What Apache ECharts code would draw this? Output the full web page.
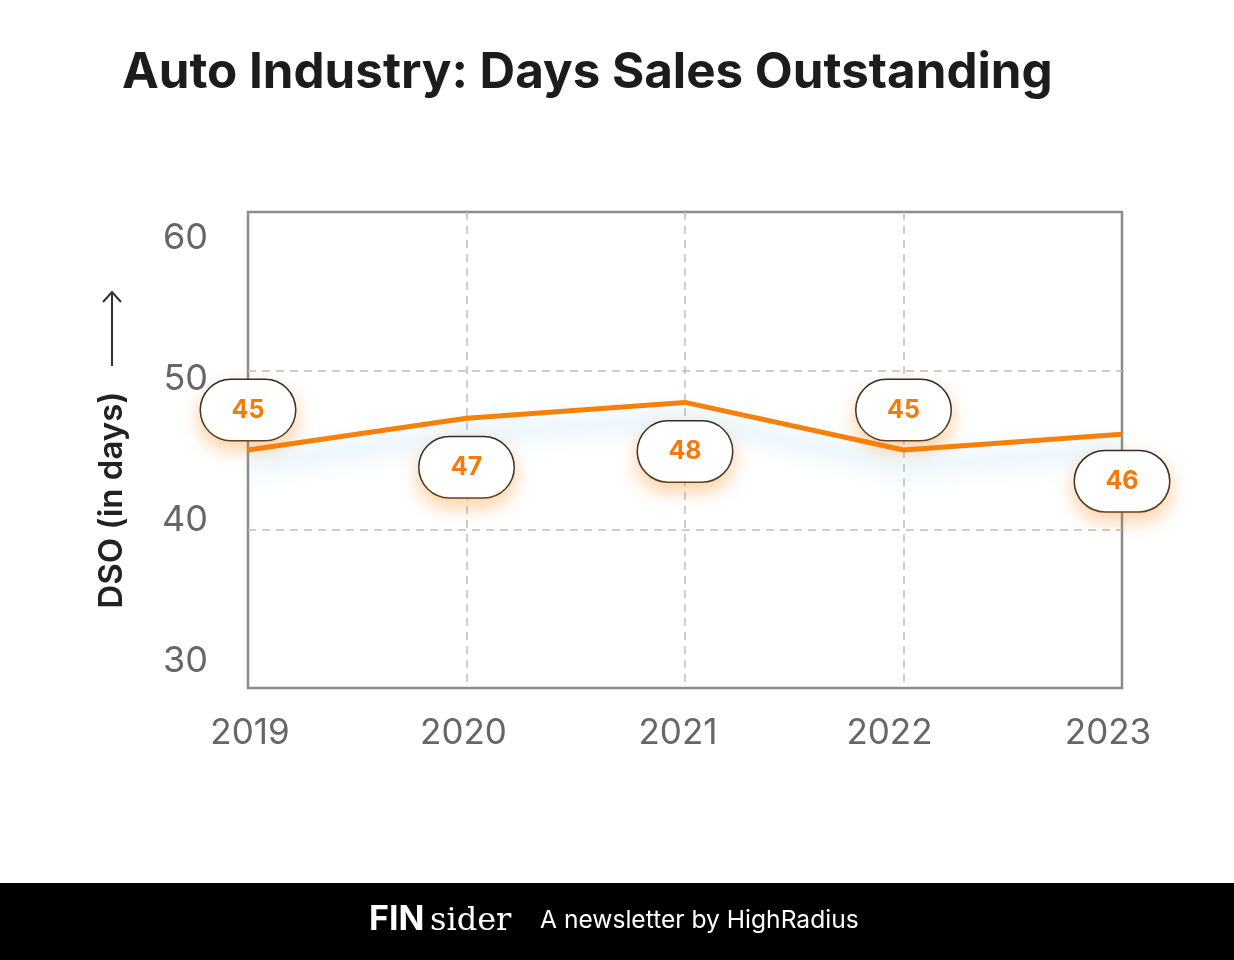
<!DOCTYPE html>
<html><head><meta charset="utf-8">
<script src="https://cdn.jsdelivr.net/npm/echarts@6/dist/echarts.min.js"></script>
<style>html,body{margin:0;padding:0;background:#fff}#c{width:1234px;height:960px}</style>
</head><body><div id="c"></div>
<script>
const years = ['2019', '2020', '2021', '2022', '2023'];
const dso = [45, 47, 48, 45, 46];
const yTicks = [30, 40, 50, 60];
const titleText = 'Auto Industry: Days Sales Outstanding';
const yName = 'DSO (in days)';

const labelPos = ['top', 'bottom', 'bottom', 'top', 'bottom'];
const labelDist = [9, 18, 18, 9, 16];
const xLabelShift = [2, -3, -7, -14, -14];
const FONT = 'Inter, "Noto Sans", sans-serif';
const dashed = {show: true, showMinLine: false, showMaxLine: false,
                lineStyle: {type: [8, 6], color: '#bdbdbd', width: 1.5}};
const xRich = {};
xLabelShift.forEach((s, i) => {
  xRich['s' + i] = {fontFamily: FONT, fontSize: 35, color: '#666',
                    padding: s < 0 ? [0, -2 * s, 0, 0] : [0, 0, 0, 2 * s]};
});
const chart = echarts.init(document.getElementById('c'), null, {renderer: 'canvas'});
chart.setOption({
  backgroundColor: '#ffffff',
  animation: false,
  title: {
    text: titleText, left: 117, top: 44,
    textStyle: {fontFamily: FONT, fontSize: 49.3, fontWeight: 700, color: '#1c1c1c'}
  },
  grid: {left: 248, right: 112, top: 212, bottom: 272, show: true,
         borderColor: '#8c8c8c', borderWidth: 2.5, backgroundColor: 'transparent'},
  xAxis: {
    type: 'category', data: years, boundaryGap: false,
    axisLine: {show: false}, axisTick: {show: false},
    axisLabel: {margin: 28, rich: xRich,
                formatter: (v, i) => '{s' + i + '|' + v + '}'},
    splitLine: dashed
  },
  yAxis: [{
    type: 'value', min: yTicks[0], max: yTicks[yTicks.length - 1], interval: 10,
    axisLine: {show: false}, axisTick: {show: false}, axisLabel: {show: false},
    splitLine: dashed
  }, {
    type: 'value', position: 'left', min: 28.085, max: 61.844,
    axisLine: {show: false}, axisTick: {show: false}, splitLine: {show: false},
    axisLabel: {customValues: yTicks, fontFamily: FONT, fontSize: 36, color: '#666', margin: 40}
  }],
  graphic: [
    {type: 'text', x: 112, y: 500, rotation: Math.PI / 2,
     style: {text: yName, fontFamily: FONT, fontSize: 33, fontWeight: 600, fill: '#222',
             textAlign: 'center', textVerticalAlign: 'middle'}},
    {type: 'line', shape: {x1: 112, y1: 366, x2: 112, y2: 292}, style: {stroke: '#333', lineWidth: 2}},
    {type: 'polyline', shape: {points: [[103, 302], [112, 292], [121, 302]]}, style: {stroke: '#333', lineWidth: 2, fill: null}},
    {type: 'rect', shape: {x: 0, y: 883, width: 1234, height: 77}, style: {fill: '#000'}},
    {type: 'text', x: 369, y: 920,
     style: {text: 'FIN', fontFamily: FONT, fontSize: 34, fontWeight: 700, fill: '#fff', textVerticalAlign: 'middle'}},
    {type: 'text', x: 430, y: 922,
     style: {text: 'sider', fontFamily: '"DejaVu Serif", "Liberation Serif", serif', fontSize: 32, fill: '#fff', textVerticalAlign: 'middle'}},
    {type: 'text', x: 540, y: 921,
     style: {text: 'A newsletter by HighRadius', fontFamily: FONT, fontSize: 24.6, fontWeight: 400, fill: '#fff', textVerticalAlign: 'middle'}}
  ],
  series: [{
    type: 'line', yAxisIndex: 0,
    data: dso.map((v, i) => ({value: v, label: {position: labelPos[i], distance: labelDist[i]}})),
    symbol: 'circle', symbolSize: 2, showSymbol: true,
    itemStyle: {color: 'rgba(0,0,0,0)'},
    lineStyle: {color: '#F7800A', width: 5,
                shadowColor: 'rgba(130,200,245,0.75)', shadowBlur: 24, shadowOffsetY: 16},
    label: {
      show: true,
      fontFamily: FONT, fontSize: 25, fontWeight: 700, color: '#F47A0A',
      backgroundColor: '#fff', borderColor: '#2a2a2a', borderWidth: 1.5, borderRadius: 30,
      width: 94, height: 60, lineHeight: 60, align: 'center',
      shadowColor: 'rgba(247,128,10,0.35)', shadowBlur: 18, shadowOffsetY: 8
    },
    labelLayout: {hideOverlap: false},
    z: 5
  }]
});
</script></body></html>
